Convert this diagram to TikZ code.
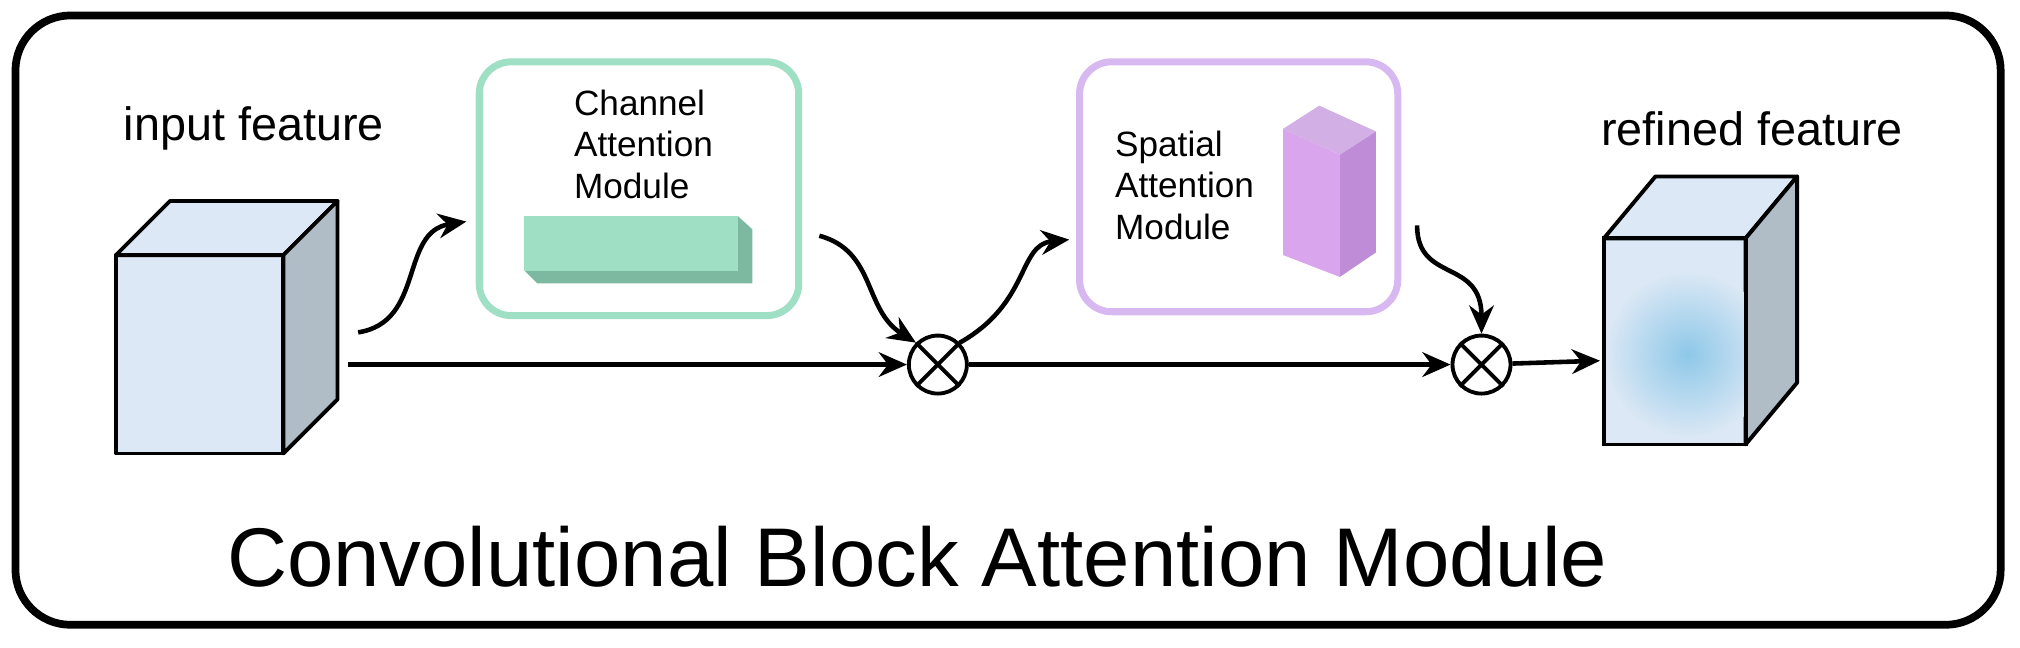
\documentclass[tikz,border=0pt]{standalone}
\usepackage{fontspec}
\setmainfont{Liberation Sans}
\usetikzlibrary{arrows.meta}
\definecolor{cubefront}{HTML}{DCE8F5}
\definecolor{cubeside}{HTML}{B0BCC6}
\definecolor{chgreen}{HTML}{9FDFC4}
\definecolor{chdark}{HTML}{7DB8A0}
\definecolor{sppurple}{HTML}{D8B8F0}
\definecolor{spfront}{HTML}{D9A6EE}
\definecolor{spside}{HTML}{BF8DD8}
\definecolor{spot}{HTML}{8EC8E8}

\begin{document}
\begin{tikzpicture}[x=0.01288cm,y=-0.01288cm]
    \tikzstyle{flow}=[line width=1.3pt,-{Stealth[length=8pt,width=7pt]}]
    \tikzstyle{cubeface}=[draw=black,line width=1.1pt,line join=round]
    \tikzstyle{mult}=[circle,draw,line width=1.1pt,minimum size=0.58cm,inner sep=0pt]
    \tikzstyle{label}=[font=\fontsize{13.3}{15}\selectfont]
    \tikzstyle{modtext}=[font=\fontsize{10}{11.8}\selectfont,align=left,anchor=north west]
    \useasboundingbox (0,0) rectangle (1568,503);
    \draw[line width=2.2pt,rounded corners=0.55cm] (12,12) rectangle (1553,485);
    % input feature cube
    \filldraw[fill=cubefront,cubeface] (90,198) rectangle (220,352);
    \filldraw[fill=cubefront,cubeface] (90,198) -- (132,156) -- (262,156) -- (220,198) -- cycle;
    \filldraw[fill=cubeside,cubeface] (220,198) -- (262,156) -- (262,310) -- (220,352) -- cycle;
    \node[label] (in) at (197,100) {input feature};
    \coordinate (inup) at (278,258);
    \coordinate (inmid) at (270,283);
    % channel attention
    \draw[chgreen,line width=2pt,rounded corners=0.32cm] (372,48) rectangle (620,245);
    \node[modtext] (cam) at (436,60) {Channel\\Attention\\Module};
    \fill[chdark] (407,210) -- (417,220) -- (584,220) -- (584,178) -- (573,168) -- (573,210) -- cycle;
    \fill[chgreen] (407,168) rectangle (573,210);
    \coordinate (camin) at (362,172);
    \coordinate (camout) at (636,183);
    \node[mult] (m1) at (728,283) {};
    \draw[line width=1.1pt] (m1.north west) -- (m1.south east) (m1.north east) -- (m1.south west);
    % spatial attention
    \draw[sppurple,line width=2pt,rounded corners=0.32cm] (838,48) rectangle (1085,242);
    \node[modtext] (sam) at (856,92) {Spatial\\Attention\\Module};
    \fill[spside] (1040,215) -- (1068,196) -- (1068,102) -- (1040,120) -- cycle;
    \fill[spside!70!white] (996,100) -- (1024,82) -- (1068,102) -- (1040,120) -- cycle;
    \fill[spfront] (996,100) -- (1040,120) -- (1040,215) -- (996,198) -- cycle;
    \coordinate (samin) at (830,186);
    \coordinate (samout) at (1100,175);
    \node[mult] (m2) at (1150,283) {};
    \draw[line width=1.1pt] (m2.north west) -- (m2.south east) (m2.north east) -- (m2.south west);
    % refined feature cube
    \filldraw[fill=cubefront,cubeface] (1245,185) rectangle (1355,345);
    \filldraw[fill=cubefront,cubeface] (1245,185) -- (1285,137) -- (1395,137) -- (1355,185) -- cycle;
    \filldraw[fill=cubeside,cubeface] (1355,185) -- (1395,137) -- (1395,297) -- (1355,345) -- cycle;
    \begin{scope}
      \clip (1245,185) rectangle (1355,345);
      \shade[inner color=spot,outer color=cubefront] (1310,275) circle (65);
    \end{scope}
    \draw[line width=1.1pt] (1245,185) rectangle (1355,345);
    \coordinate (outin) at (1242,280);
    \node[label] (out) at (1360,100) {refined feature};
    \node[font=\fontsize{23.7}{28}\selectfont] (title) at (712,432) {Convolutional Block Attention Module};
    % connectors
    \draw[flow] (inup) .. controls (330,250) and (310,180) .. (camin);
    \draw[flow] (inmid) -- (m1);
    \draw[flow] (camout) .. controls (680,195) and (670,240) .. (m1.north west);
    \draw[flow] (m1.north east) .. controls (800,235) and (790,190) .. (samin);
    \draw[flow] (m1) -- (m2);
    \draw[flow] (samout) .. controls (1100,220) and (1150,200) .. (m2.north);
    \draw[flow] (m2) -- (outin);
\end{tikzpicture}
\end{document}
